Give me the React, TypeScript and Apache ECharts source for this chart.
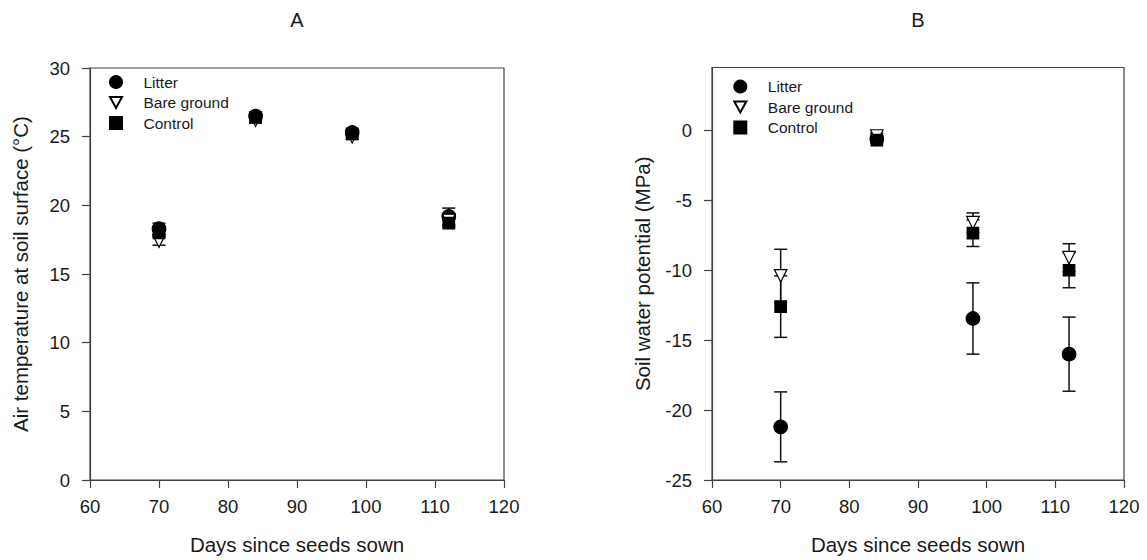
import React, { useEffect, useRef } from "react";
import * as echarts from "echarts";

const days = [70, 84, 98, 112];
const treatments = ["Litter", "Bare ground", "Control"];

// Panel A: air temperature at soil surface (°C)
const tempLitter = [18.3, 26.5, 25.3, 19.2];
const tempLitterErr = [0.4, 0.2, 0.2, 0.6];
const tempBare = [17.4, 26.2, 25.0, 18.9];
const tempBareErr = [0.3, 0.2, 0.2, 0.4];
const tempControl = [18.0, 26.4, 25.2, 18.7];
const tempControlErr = [0.3, 0.2, 0.2, 0.3];

// Panel B: soil water potential (MPa)
const swpLitter = [-21.2, -0.6, -13.45, -16.0];
const swpLitterErr = [2.5, 0.2, 2.55, 2.65];
const swpBare = [-10.4, -0.4, -6.6, -9.1];
const swpBareErr = [1.9, 0.2, 0.7, 1.0];
const swpControl = [-12.6, -0.7, -7.35, -10.0];
const swpControlErr = [2.2, 0.2, 0.95, 1.25];

const xTicks = [60, 70, 80, 90, 100, 110, 120];
const yTicksA = [0, 5, 10, 15, 20, 25, 30];
const yTicksB = [-25, -20, -15, -10, -5, 0];

const FONT = "'Liberation Sans', Arial, sans-serif";
const AXIS_COLOR = "#444";
const TEXT_COLOR = "#1a1a1a";

const symbols: Record<string, any> = {
  Litter: { symbol: "circle", size: 13.5, rotate: 0, color: "#000", border: "#000" },
  "Bare ground": { symbol: "triangle", size: 12.5, rotate: 180, color: "#fff", border: "#000" },
  Control: { symbol: "rect", size: 11.5, rotate: 0, color: "#000", border: "#000" },
};

function zipPts(vals: number[]) {
  return days.map((d, i) => [d, vals[i]]);
}
function zipErr(vals: number[], errs: number[]) {
  return days.map((d, i) => [d, vals[i], errs[i]]);
}

function errorSeries(idx: number, data: number[][], name: string) {
  return {
    type: "custom",
    name: name + " err",
    xAxisIndex: idx,
    yAxisIndex: idx,
    z: 1,
    silent: true,
    encode: { x: 0, y: 1 },
    data,
    renderItem: (params: any, api: any) => {
      const x = api.value(0);
      const m = api.value(1);
      const e = api.value(2);
      const hi = api.coord([x, m + e]);
      const lo = api.coord([x, m - e]);
      const cw = 6.5;
      const st = { stroke: "#111", lineWidth: 1.5 };
      return {
        type: "group",
        children: [
          { type: "line", shape: { x1: hi[0], y1: hi[1], x2: lo[0], y2: lo[1] }, style: st },
          { type: "line", shape: { x1: hi[0] - cw, y1: hi[1], x2: hi[0] + cw, y2: hi[1] }, style: st },
          { type: "line", shape: { x1: lo[0] - cw, y1: lo[1], x2: lo[0] + cw, y2: lo[1] }, style: st },
        ],
      };
    },
  };
}

function scatterSeries(idx: number, name: string, data: number[][]) {
  const s = symbols[name];
  return {
    type: "scatter",
    name,
    xAxisIndex: idx,
    yAxisIndex: idx,
    z: 3,
    symbol: s.symbol,
    symbolSize: s.size,
    symbolRotate: s.rotate,
    itemStyle: { color: s.color, borderColor: s.border, borderWidth: 1.2, opacity: 1 },
    data,
  };
}

function xAxis(idx: number) {
  return {
    type: "value",
    gridIndex: idx,
    min: 60,
    max: 120,
    interval: 10,
    name: "Days since seeds sown",
    nameLocation: "middle",
    nameGap: 54,
    nameTextStyle: { fontFamily: FONT, fontSize: 20.5, color: TEXT_COLOR },
    axisLine: { show: true, onZero: false, lineStyle: { color: AXIS_COLOR, width: 1.2 } },
    axisTick: { show: true, length: 8, lineStyle: { color: AXIS_COLOR, width: 1.2 }, customValues: xTicks },
    axisLabel: { fontFamily: FONT, fontSize: 18.5, color: TEXT_COLOR, margin: 17, customValues: xTicks },
    splitLine: { show: false },
  };
}

function yAxis(idx: number, min: number, max: number, ticks: number[], name: string) {
  return {
    type: "value",
    gridIndex: idx,
    min,
    max,
    interval: 5,
    name,
    nameLocation: "middle",
    nameGap: 59,
    nameTextStyle: { fontFamily: FONT, fontSize: 20.5, color: TEXT_COLOR },
    axisLine: { show: true, onZero: false, lineStyle: { color: AXIS_COLOR, width: 1.2 } },
    axisTick: { show: true, length: 8, lineStyle: { color: AXIS_COLOR, width: 1.2 }, customValues: ticks },
    axisLabel: { fontFamily: FONT, fontSize: 18.5, color: TEXT_COLOR, margin: 20, customValues: ticks },
    splitLine: { show: false },
  };
}

function legend(left: number, top: number) {
  return {
    data: [
      { name: treatments[0], icon: "circle" },
      { name: treatments[1], icon: "path://M0,0L12,0L6,11Z" },
      { name: treatments[2], icon: "rect" },
    ],
    orient: "vertical",
    left,
    top,
    padding: 0,
    itemWidth: 12,
    itemHeight: 12,
    itemGap: 4.5,
    selectedMode: false,
    textStyle: { fontFamily: FONT, fontSize: 15.5, color: TEXT_COLOR, padding: [0, 0, 0, 16.5] },
  };
}

export default function App() {
  const ref = useRef<HTMLDivElement>(null);
  useEffect(() => {
    document.body.style.margin = "0";
    if (!ref.current) return;
    const chart = echarts.init(ref.current, undefined, { renderer: "svg" });
    const titleStyle = { fontFamily: FONT, fontSize: 20, fill: TEXT_COLOR, textAlign: "center", textVerticalAlign: "middle" };
    const option: any = {
      animation: false,
      backgroundColor: "#fff",
      graphic: [
        { type: "text", x: 297, y: 20, style: { ...titleStyle, text: "A" } },
        { type: "text", x: 918, y: 20, style: { ...titleStyle, text: "B" } },
      ],
      legend: [legend(109, 74), legend(733.3, 78.5)],
      grid: [
        { left: 90, right: 643, top: 68, bottom: 76.5, show: true, borderColor: AXIS_COLOR, borderWidth: 1.2, backgroundColor: "transparent" },
        { left: 712, right: 23, top: 67.5, bottom: 76.5, show: true, borderColor: AXIS_COLOR, borderWidth: 1.2, backgroundColor: "transparent" },
      ],
      xAxis: [xAxis(0), xAxis(1)],
      yAxis: [
        yAxis(0, 0, 30, yTicksA, "Air temperature at soil surface (°C)"),
        yAxis(1, -25, 4.5, yTicksB, "Soil water potential (MPa)"),
      ],
      series: [
        errorSeries(0, zipErr(tempLitter, tempLitterErr), "Litter A"),
        errorSeries(0, zipErr(tempBare, tempBareErr), "Bare A"),
        errorSeries(0, zipErr(tempControl, tempControlErr), "Control A"),
        errorSeries(1, zipErr(swpLitter, swpLitterErr), "Litter B"),
        errorSeries(1, zipErr(swpBare, swpBareErr), "Bare B"),
        errorSeries(1, zipErr(swpControl, swpControlErr), "Control B"),
        scatterSeries(0, treatments[0], zipPts(tempLitter)),
        scatterSeries(0, treatments[1], zipPts(tempBare)),
        scatterSeries(0, treatments[2], zipPts(tempControl)),
        scatterSeries(1, treatments[0], zipPts(swpLitter)),
        scatterSeries(1, treatments[1], zipPts(swpBare)),
        scatterSeries(1, treatments[2], zipPts(swpControl)),
      ],
    };
    chart.setOption(option);
    return () => chart.dispose();
  }, []);
  return <div ref={ref} style={{ width: 1147, height: 560 }} />;
}
